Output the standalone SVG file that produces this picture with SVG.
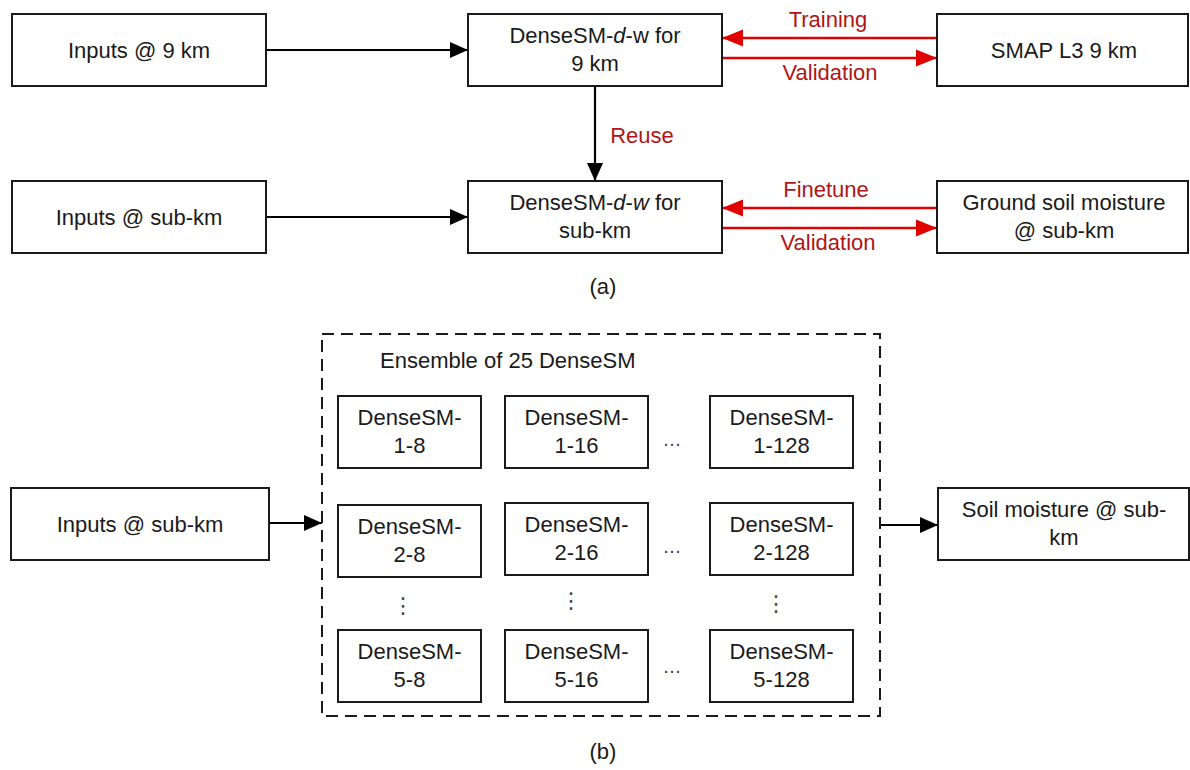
<svg xmlns="http://www.w3.org/2000/svg" width="1190" height="770" viewBox="0 0 1190 770">
<style>
.box{fill:#fff;stroke:#1a1a1a;stroke-width:2}
.t{font-family:"Liberation Sans",Arial,sans-serif;font-size:22px;fill:#1a1a1a;text-anchor:middle}
.rl{font-family:"Liberation Sans",Arial,sans-serif;font-size:22px;fill:#b01515;text-anchor:middle}
.ba{stroke:#000;stroke-width:2.2;fill:none}
.ra{stroke:#e00000;stroke-width:2.5;fill:none}
.dots{font-family:"DejaVu Sans",sans-serif;font-size:18px;fill:#444;text-anchor:middle}
.vdots{font-family:"DejaVu Sans",sans-serif;font-size:22px;fill:#444;text-anchor:middle}
</style>
<defs>
<marker id="ab" markerUnits="userSpaceOnUse" markerWidth="19" markerHeight="18" refX="18" refY="9" orient="auto">
<path d="M0,1 L18,9 L0,17 Z" fill="#000"/>
</marker>
<marker id="ar" markerUnits="userSpaceOnUse" markerWidth="22" markerHeight="20" refX="21" refY="10" orient="auto">
<path d="M0,1.5 L21,10 L0,18.5 Z" fill="#e00000"/>
</marker>
</defs>
<rect width="1190" height="770" fill="#fff"/>

<g id="connectors">
<line class="ba" x1="266" y1="50" x2="468" y2="50" marker-end="url(#ab)"/>
<line class="ba" x1="595" y1="86" x2="595" y2="181" marker-end="url(#ab)"/>
<line class="ba" x1="266" y1="217" x2="468" y2="217" marker-end="url(#ab)"/>
<line class="ra" x1="937" y1="38" x2="722" y2="38" marker-end="url(#ar)"/>
<line class="ra" x1="722" y1="58" x2="937" y2="58" marker-end="url(#ar)"/>
<line class="ra" x1="937" y1="208" x2="722" y2="208" marker-end="url(#ar)"/>
<line class="ra" x1="722" y1="228" x2="937" y2="228" marker-end="url(#ar)"/>
<line class="ba" x1="269" y1="523" x2="322" y2="523" marker-end="url(#ab)"/>
<line class="ba" x1="880" y1="525" x2="938" y2="525" marker-end="url(#ab)"/>
<text class="rl" x="828" y="27">Training</text>
<text class="rl" x="830" y="80">Validation</text>
<text class="rl" x="642" y="143">Reuse</text>
<text class="rl" x="826" y="197">Finetune</text>
<text class="rl" x="828" y="250">Validation</text>
</g>

<g id="inputs9">
<rect class="box" x="12" y="14" width="254" height="72"/>
<text class="t" x="139" y="58">Inputs @ 9 km</text>
</g>
<g id="dense9">
<rect class="box" x="468" y="14" width="254" height="72"/>
<text class="t" x="595" y="43">DenseSM-<tspan font-style="italic">d</tspan>-w for</text>
<text class="t" x="595" y="71">9 km</text>
</g>
<g id="smap">
<rect class="box" x="937" y="14" width="251" height="72"/>
<text class="t" x="1064" y="58">SMAP L3 9 km</text>
</g>
<g id="inputsSub">
<rect class="box" x="12" y="181" width="254" height="72"/>
<text class="t" x="139" y="225">Inputs @ sub-km</text>
</g>
<g id="denseSub">
<rect class="box" x="468" y="181" width="254" height="72"/>
<text class="t" x="595" y="210">DenseSM-<tspan font-style="italic">d</tspan>-<tspan font-style="italic">w</tspan> for</text>
<text class="t" x="595" y="238">sub-km</text>
</g>
<g id="ground">
<rect class="box" x="937" y="181" width="251" height="72"/>
<text class="t" x="1064" y="210">Ground soil moisture</text>
<text class="t" x="1064" y="238">@ sub-km</text>
</g>
<text class="t" x="603" y="294" font-size="26">(a)</text>

<g id="inputsB">
<rect class="box" x="11" y="488" width="258" height="72"/>
<text class="t" x="140" y="532">Inputs @ sub-km</text>
</g>
<g id="ensemble">
<rect x="322" y="334" width="558" height="382" fill="none" stroke="#1a1a1a" stroke-width="2" stroke-dasharray="12,7"/>
<text class="t" x="380" y="368" style="text-anchor:start">Ensemble of 25 DenseSM</text>
</g>
<g id="m1-8"><rect class="box" x="338" y="396" width="143" height="72"/><text class="t" x="409.5" y="425">DenseSM-</text><text class="t" x="409.5" y="453">1-8</text></g>
<g id="m1-16"><rect class="box" x="505" y="396" width="143" height="72"/><text class="t" x="576.5" y="425">DenseSM-</text><text class="t" x="576.5" y="453">1-16</text></g>
<g id="m1-128"><rect class="box" x="710" y="396" width="143" height="72"/><text class="t" x="781.5" y="425">DenseSM-</text><text class="t" x="781.5" y="453">1-128</text></g>
<g id="m2-8"><rect class="box" x="338" y="505" width="143" height="72"/><text class="t" x="409.5" y="534">DenseSM-</text><text class="t" x="409.5" y="562">2-8</text></g>
<g id="m2-16"><rect class="box" x="505" y="503" width="143" height="72"/><text class="t" x="576.5" y="532">DenseSM-</text><text class="t" x="576.5" y="560">2-16</text></g>
<g id="m2-128"><rect class="box" x="710" y="503" width="143" height="72"/><text class="t" x="781.5" y="532">DenseSM-</text><text class="t" x="781.5" y="560">2-128</text></g>
<g id="m5-8"><rect class="box" x="338" y="630" width="143" height="72"/><text class="t" x="409.5" y="659">DenseSM-</text><text class="t" x="409.5" y="687">5-8</text></g>
<g id="m5-16"><rect class="box" x="505" y="630" width="143" height="72"/><text class="t" x="576.5" y="659">DenseSM-</text><text class="t" x="576.5" y="687">5-16</text></g>
<g id="m5-128"><rect class="box" x="710" y="630" width="143" height="72"/><text class="t" x="781.5" y="659">DenseSM-</text><text class="t" x="781.5" y="687">5-128</text></g>
<g id="ellipses">
<text class="dots" x="672" y="446">…</text>
<text class="dots" x="672" y="553">…</text>
<text class="dots" x="672" y="673">…</text>
<text class="vdots" x="403" y="613">⋮</text>
<text class="vdots" x="571" y="608">⋮</text>
<text class="vdots" x="776" y="611">⋮</text>
</g>
<g id="soilOut">
<rect class="box" x="938" y="488" width="251" height="72"/>
<text class="t" x="1064" y="517">Soil moisture @ sub-</text>
<text class="t" x="1064" y="545">km</text>
</g>
<text class="t" x="603" y="759" font-size="26">(b)</text>
</svg>
